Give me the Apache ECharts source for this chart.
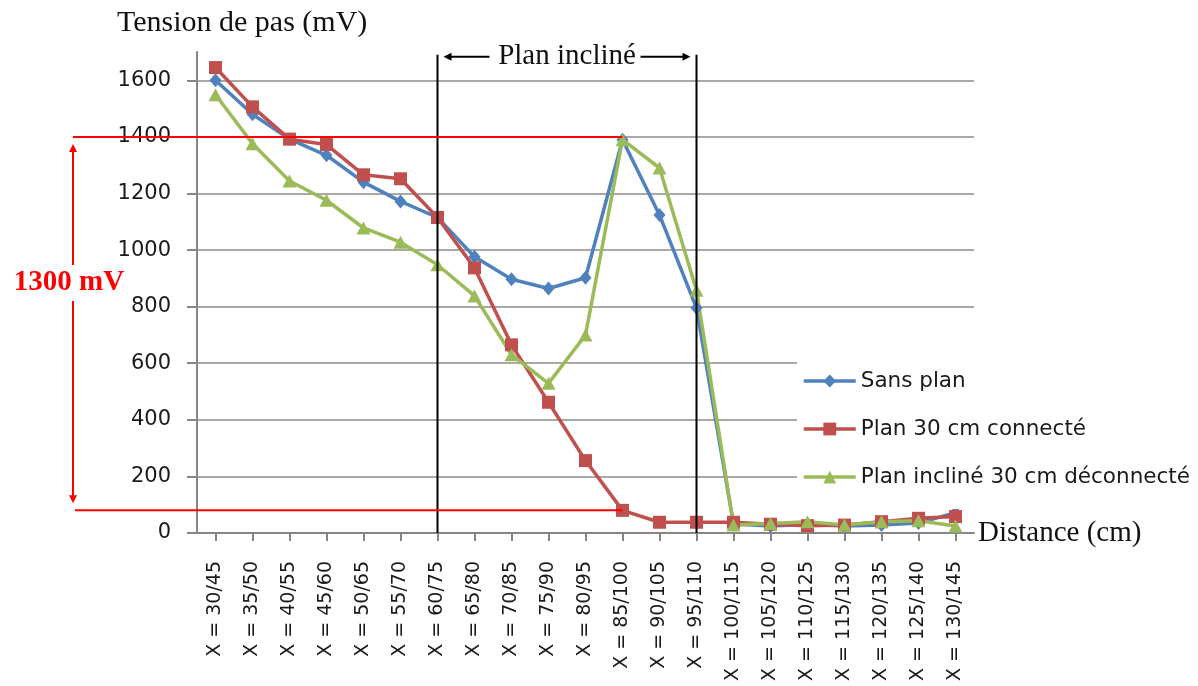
<!DOCTYPE html>
<html>
<head>
<meta charset="utf-8">
<title>Tension de pas</title>
<script src="https://cdn.jsdelivr.net/npm/echarts@6/dist/echarts.min.js"></script>
<style>
  html, body { margin: 0; padding: 0; background: #ffffff; }
  #chart { width: 1198px; height: 686px; }
</style>
</head>
<body>
<div id="chart"></div>
<script>
// Distance positions (cm) of the two measuring points
const categories = [
  'X = 30/45', 'X = 35/50', 'X = 40/55', 'X = 45/60', 'X = 50/65', 'X = 55/70',
  'X = 60/75', 'X = 65/80', 'X = 70/85', 'X = 75/90', 'X = 80/95', 'X = 85/100',
  'X = 90/105', 'X = 95/110', 'X = 100/115', 'X = 105/120', 'X = 110/125',
  'X = 115/130', 'X = 120/135', 'X = 125/140', 'X = 130/145'
];

// Step voltage (mV) for each configuration
const sansPlan = [1600, 1480, 1392, 1335, 1240, 1172, 1115, 976, 897, 864, 902, 1390, 1124, 795, 32, 25, 30, 25, 28, 35, 72];
const planConnecte = [1645, 1506, 1392, 1373, 1266, 1252, 1115, 937, 665, 462, 256, 80, 38, 38, 38, 31, 26, 28, 40, 52, 58];
const planInclineDeconnecte = [1549, 1376, 1244, 1176, 1078, 1028, 948, 838, 630, 529, 700, 1390, 1290, 858, 28, 34, 40, 28, 40, 43, 25];

// Value axis ticks
const yTicks = [0, 200, 400, 600, 800, 1000, 1200, 1400, 1600];

// Annotation values: inclined plane spans two positions, 1300 mV drop between 1400 and 80
const inclineStart = 'X = 60/75';
const inclineEnd = 'X = 95/110';
const dropTop = 1400;
const dropBottom = 80;
const dropAt = 'X = 85/100';
const dropLabel = '1300 mV';

const sansFont = 'DejaVu Sans';
const serifFont = 'Liberation Serif';
const gridGray = '#8c8c8c';

const chart = echarts.init(document.getElementById('chart'), null, { renderer: 'canvas' });

function lineSeries(name, data, color, symbol, size) {
  return {
    name: name,
    type: 'line',
    data: data,
    symbol: symbol,
    symbolSize: size,
    clip: false,
    z: 3,
    lineStyle: { color: color, width: 3.5 },
    itemStyle: { color: color, borderWidth: 0 },
    emphasis: { disabled: true },
    animation: false
  };
}

chart.setOption({
  animation: false,
  backgroundColor: '#ffffff',
  grid: { left: 197, right: 224, top: 52, bottom: 153, outerBoundsMode: 'none' },
  legend: {
    orient: 'vertical',
    left: 797,
    top: 341,
    padding: [28, 8, 20, 5],
    backgroundColor: '#ffffff',
    itemWidth: 52,
    itemHeight: 16,
    itemGap: 24,
    z: 10,
    lineStyle: { width: 3.5 },
    textStyle: { fontFamily: sansFont, fontSize: 21.5, color: '#1a1a1a', lineHeight: 24, padding: [0, 0, 0, 0] },
    data: ['Sans plan', 'Plan 30 cm connecté', 'Plan incliné 30 cm déconnecté']
  },
  xAxis: {
    type: 'category',
    data: categories,
    boundaryGap: true,
    name: 'Distance (cm)',
    nameLocation: 'end',
    nameGap: 4,
    nameTextStyle: { fontFamily: serifFont, fontSize: 29, color: '#111', padding: [8, 0, 0, 0] },
    axisLine: { show: true, lineStyle: { color: '#868686', width: 2 } },
    axisTick: { show: true, alignWithLabel: true, length: 8, lineStyle: { color: '#868686', width: 2 } },
    axisLabel: {
      interval: 0, rotate: 90, margin: 28,
      fontFamily: sansFont, fontSize: 19, color: '#1a1a1a'
    },
    splitLine: { show: false }
  },
  yAxis: {
    type: 'value',
    min: 0,
    max: 1700,
    interval: 200,
    axisLine: { show: true, lineStyle: { color: '#868686', width: 2 } },
    axisTick: { show: true, length: 10, customValues: yTicks, lineStyle: { color: '#868686', width: 2 } },
    axisLabel: {
      customValues: yTicks, margin: 26,
      formatter: function (v) { return String(v); },
      fontFamily: sansFont, fontSize: 21, color: '#1a1a1a'
    },
    splitLine: { show: true, lineStyle: { color: gridGray, width: 1.5 } }
  },
  series: [
    lineSeries('Sans plan', sansPlan, '#4f81bd', 'diamond', [12, 14]),
    lineSeries('Plan 30 cm connecté', planConnecte, '#c0504d', 'rect', 13),
    lineSeries('Plan incliné 30 cm déconnecté', planInclineDeconnecte, '#9bbb59', 'triangle', [14, 13])
  ]
});

// Annotations placed from data coordinates
function px(cat, val) {
  return chart.convertToPixel({ gridIndex: 0 }, [cat, val]);
}

const red = '#ff0000';
const black = '#000000';
const pTop = px(dropAt, dropTop);
const pBottom = px(dropAt, dropBottom);
const arrowX = 73;
const lineLeft = 73;

const startTop = px(inclineStart, 1690);
const startBase = px(inclineStart, 0);
const endTop = px(inclineEnd, 1690);
const endBase = px(inclineEnd, 0);
const bannerY = startTop[1] + 2;
const labelY = 283;

function seg(x1, y1, x2, y2, color, w) {
  return { type: 'line', silent: true, z: 20,
    shape: { x1: x1, y1: y1, x2: x2, y2: y2 },
    style: { stroke: color, lineWidth: w } };
}
function head(points, color) {
  return { type: 'polygon', silent: true, z: 20, shape: { points: points }, style: { fill: color } };
}

const graphics = [
  // axis title
  { type: 'text', left: 117, top: 8, silent: true,
    style: { text: 'Tension de pas (mV)', fontFamily: serifFont, fontSize: 30, fill: '#111' } },

  // inclined plane boundaries
  seg(startTop[0], startTop[1], startBase[0], startBase[1], black, 2),
  seg(endTop[0], endTop[1], endBase[0], endBase[1], black, 2),
  seg(startTop[0] + 12, bannerY, startTop[0] + 52, bannerY, black, 2),
  head([[startTop[0] + 6, bannerY], [startTop[0] + 14, bannerY - 4], [startTop[0] + 14, bannerY + 4]], black),
  seg(endTop[0] - 56, bannerY, endTop[0] - 12, bannerY, black, 2),
  head([[endTop[0] - 6, bannerY], [endTop[0] - 14, bannerY - 4], [endTop[0] - 14, bannerY + 4]], black),
  { type: 'text', silent: true, z: 20,
    x: (startTop[0] + endTop[0]) / 2, y: bannerY,
    style: { text: 'Plan incliné', fontFamily: serifFont, fontSize: 29, fill: '#111',
      align: 'center', verticalAlign: 'middle' } },

  // 1300 mV drop indicator
  seg(lineLeft, pTop[1], pTop[0], pTop[1], red, 2),
  seg(lineLeft + 2, pBottom[1], pBottom[0], pBottom[1], red, 2),
  seg(arrowX, pTop[1] + 12, arrowX, labelY - 18, red, 2),
  seg(arrowX, labelY + 18, arrowX, pBottom[1] - 12, red, 2),
  head([[arrowX, pTop[1] + 7], [arrowX - 4, pTop[1] + 15], [arrowX + 4, pTop[1] + 15]], red),
  head([[arrowX, pBottom[1] - 7], [arrowX - 4, pBottom[1] - 15], [arrowX + 4, pBottom[1] - 15]], red),
  { type: 'text', silent: true, z: 20, x: 69, y: labelY,
    style: { text: dropLabel, fontFamily: serifFont, fontSize: 29, fontWeight: 'bold', fill: red,
      align: 'center', verticalAlign: 'middle' } }
];

chart.setOption({ graphic: graphics });
</script>
</body>
</html>
